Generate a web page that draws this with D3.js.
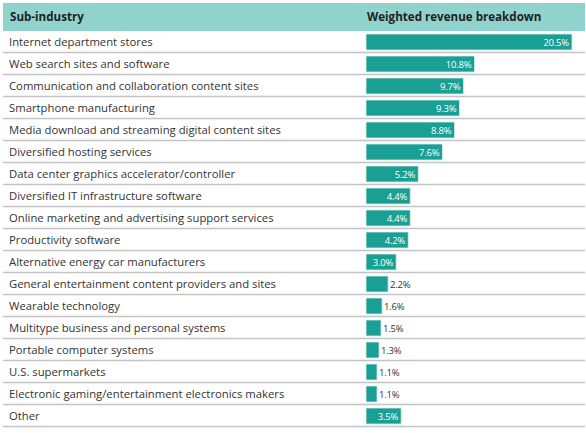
<!DOCTYPE html>
<html>
<head>
<meta charset="utf-8">
<script src="https://cdn.jsdelivr.net/npm/d3@7"></script>
<style>
  body { margin: 0; background: #fff; }
  svg text { font-family: "Open Sans", Lato, sans-serif; }
</style>
</head>
<body>
<div id="graph"></div>
<script>
// Sub-industries and weights (%), top to bottom
const categories = [
    "Internet department stores",
    "Web search sites and software",
    "Communication and collaboration content sites",
    "Smartphone manufacturing",
    "Media download and streaming digital content sites",
    "Diversified hosting services",
    "Data center graphics accelerator/controller",
    "Diversified IT infrastructure software",
    "Online marketing and advertising support services",
    "Productivity software",
    "Alternative energy car manufacturers",
    "General entertainment content providers and sites",
    "Wearable technology",
    "Multitype business and personal systems",
    "Portable computer systems",
    "U.S. supermarkets",
    "Electronic gaming/entertainment electronics makers",
    "Other"
];
const weights = [20.5, 10.8, 9.7, 9.3, 8.8, 7.6, 5.2, 4.4, 4.4, 4.2, 3.0, 2.2, 1.6, 1.5, 1.3, 1.1, 1.1, 3.5];
const headers = ["Sub-industry", "Weighted revenue breakdown"];

const w = 586, h = 433;
const left = 3, right = 585;
const headTop = 3, headBottom = 31;
const rowH = 22;
const barX = 366;

const svg = d3.select("#graph")
    .append("svg")
    .attr("width", w)
    .attr("height", h);

// header band
svg.append("rect")
    .attr("x", left)
    .attr("y", headTop)
    .attr("width", right - left)
    .attr("height", headBottom - headTop)
    .attr("fill", "#8fd3cc");

svg.append("text")
    .attr("x", 10)
    .attr("y", 21)
    .attr("font-size", 11.6)
    .attr("font-weight", "bold")
    .attr("fill", "#222")
    .text(headers[0]);

svg.append("text")
    .attr("x", barX + 1)
    .attr("y", 21)
    .attr("font-size", 11.6)
    .attr("font-weight", "bold")
    .attr("fill", "#222")
    .text(headers[1]);

const yScale = d3.scaleBand()
    .domain(categories)
    .range([headBottom, headBottom + rowH * categories.length]);

const xScale = d3.scaleLinear()
    .domain([0, 20.5])
    .range([0, 206]);

const rows = svg.selectAll("g.row")
    .data(categories.map((c, i) => ({ name: c, value: weights[i] })))
    .enter()
    .append("g")
    .attr("class", "row")
    .attr("transform", d => `translate(0,${yScale(d.name)})`);

// separator under each row
rows.append("line")
    .attr("x1", left)
    .attr("x2", right)
    .attr("y1", rowH - 0.5)
    .attr("y2", rowH - 0.5)
    .attr("stroke", "#c4c4c4")
    .attr("stroke-width", 1.5);

rows.append("text")
    .attr("x", 9)
    .attr("y", rowH / 2 + 4)
    .attr("font-size", 11.3)
    .attr("fill", "#333")
    .text(d => d.name);

rows.append("rect")
    .attr("x", barX)
    .attr("y", 3)
    .attr("width", d => xScale(d.value))
    .attr("height", 16)
    .attr("fill", "#1a9f95")
    .attr("stroke", "#d8efec")
    .attr("stroke-width", 0.8);

// value labels: inside (white) for wide bars, outside (dark) for narrow ones
rows.append("text")
    .attr("x", d => d.value >= 3 ? barX + xScale(d.value) - 3 : barX + xScale(d.value) + 2)
    .attr("y", rowH / 2 + 3.5)
    .attr("text-anchor", d => d.value >= 3 ? "end" : "start")
    .attr("font-size", 9.5)
    .attr("letter-spacing", -0.2)
    .attr("fill", d => d.value >= 3 ? "#fff" : "#333")
    .text(d => d.value.toFixed(1) + "%");
</script>
</body>
</html>
